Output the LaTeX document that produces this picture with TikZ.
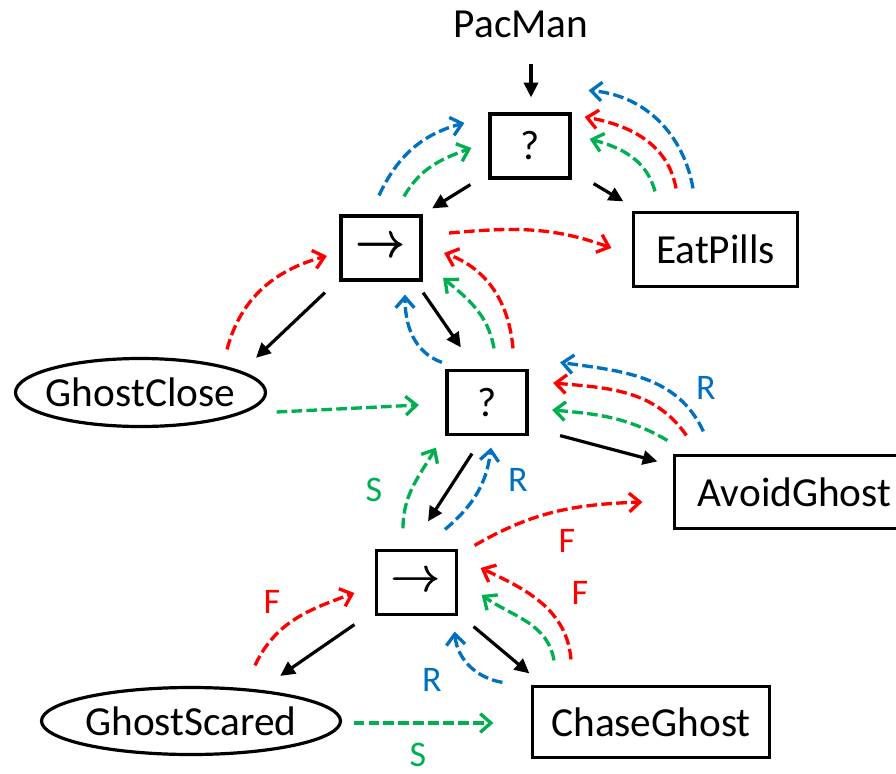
\RequirePackage{fix-cm}
\documentclass[tikz,border=0pt]{standalone}
\usepackage{amsbsy}
\usepackage{fontspec}
\setmainfont{Carlito}
\usetikzlibrary{arrows.meta,shapes.geometric}

\definecolor{ppred}{HTML}{FF0000}
\definecolor{ppgreen}{HTML}{00B050}
\definecolor{ppblue}{HTML}{0070C0}

\tikzset{
  gate/.style={draw, line width=2.4pt, minimum width=60pt, minimum height=48pt, inner sep=0pt},
  task/.style={draw, line width=2.4pt, inner sep=0pt},
  cond/.style={ellipse, draw, line width=2.4pt, inner sep=0pt},
  edge/.style={-{Triangle[length=11pt,width=10.5pt]}, line width=2.4pt},
  back/.style={-{Straight Barb[length=8pt,width=14pt]}, line width=2.5pt, dash pattern=on 8pt off 3.2pt},
  lab/.style={font=\fontsize{27}{32}\selectfont, inner sep=0pt},
  seqsym/.style={font=\fontsize{37}{40}\selectfont}
}

\begin{document}
\begin{tikzpicture}[x=0.75pt, y=0.75pt, font=\fontsize{31}{37}\selectfont]
\useasboundingbox (0,0) rectangle (896,-774);

% nodes
\node[inner sep=0pt] (pacman) at (521,-24) {PacMan};
\node[gate] (root) at (530,-146) {?};
\node[gate, seqsym] (seqA) at (381,-248) {\pmb{$\rightarrow$}};
\node[task, minimum width=123pt, minimum height=55.5pt] (eat) at (715.5,-249.5) {EatPills};
\node[cond, minimum width=187.5pt, minimum height=51pt] (close) at (140.5,-392.5) {\makebox[0pt]{GhostClose}};
\node[gate] (fallb) at (487,-402.5) {?};
\node[task, minimum width=180pt, minimum height=54.75pt] (avoid) at (794.5,-492) {AvoidGhost};
\node[gate, seqsym] (seqB) at (416.5,-582.5) {\pmb{$\rightarrow$}};
\node[cond, minimum width=224.25pt, minimum height=50.25pt] (scared) at (191,-721) {\makebox[0pt]{GhostScared}};
\node[task, minimum width=177.75pt, minimum height=53.25pt] (chase) at (651,-722) {ChaseGhost};

% ticks
\draw[edge] ([shift={(10,-26)}]pacman.south) -- ([shift={(1,15)}]root.north);
\draw[edge] ([shift={(-18,-5)}]root.south west) -- ([shift={(9.5,6)}]seqA.north east);
\draw[edge] ([shift={(22,-4)}]root.south east) -- ([shift={(-8.5,9.5)}]eat.north west);
\draw[edge] ([shift={(-14.5,-11)}]seqA.south west) -- ([shift={(26,9.5)}]close.north east);
\draw[edge] ([shift={(0.5,-11)}]seqA.south east) -- ([shift={(15.5,21.5)}]fallb.north west);
\draw[edge] ([shift={(31.5,0.5)}]fallb.south east) -- ([shift={(-15.5,-7.5)}]avoid.north west);
\draw[edge] ([shift={(-15,-17.5)}]fallb.south) -- ([shift={(11.5,27.5)}]seqB.north);
\draw[edge] ([shift={(-20.5,-8.5)}]seqB.south west) -- ([shift={(-17.7,20.3)}]scared.north east);
\draw[edge] ([shift={(15.5,-10.5)}]seqB.south east) -- ([shift={(-1.5,11.5)}]chase.north west);

% returns, top
\draw[back, ppblue] ([shift={(-2,19)}]seqA.north) to[out=65,in=195] ([shift={(-24,23)}]root.west);
\draw[back, ppgreen] ([shift={(23,18)}]seqA.north) to[out=60,in=200] ([shift={(-17,-2)}]root.west);
\draw[back, ppblue] ([shift={(-22.5,22.5)}]eat.north) to[out=100,in=-5] ([shift={(17,22)}]root.north east);
\draw[back, ppred] ([shift={(-39.5,22.5)}]eat.north) to[out=100,in=-10] ([shift={(13,29)}]root.east);
\draw[back, ppgreen] ([shift={(-60.5,19.5)}]eat.north) to[out=105,in=-15] ([shift={(18,7)}]root.east);
\draw[back, ppred] ([shift={(26.5,15)}]seqA.east) to[out=5,in=160] ([shift={(-20.5,1.5)}]eat.west);
\draw[back, ppred] ([shift={(26,20.5)}]fallb.north) to[out=95,in=-20] ([shift={(21.5,-5)}]seqA.east);
\draw[back, ppgreen] ([shift={(7,20.5)}]fallb.north) to[out=100,in=-40] ([shift={(20.5,-30)}]seqA.east);
\draw[back, ppblue] ([shift={(-3.5,6.5)}]fallb.north west) to[out=160,in=-90] ([shift={(24,-13)}]seqA.south);
\draw[back, ppred] ([shift={(86.5,7.5)}]close.north) to[out=75,in=195] ([shift={(-12.5,-8)}]seqA.west);
\draw[back, ppgreen] ([shift={(9.5,-19.5)}]close.east) -- ([shift={(-26.5,-2.5)}]fallb.west);

% returns, middle
\draw[back, ppblue] ([shift={(30.5,22.5)}]avoid.north west) to[out=115,in=-8] ([shift={(31.5,6.5)}]fallb.north east);
\draw[back, ppred] ([shift={(13.5,18.5)}]avoid.north west) to[out=125,in=-5] ([shift={(24.5,19.5)}]fallb.east);
\draw[back, ppgreen] ([shift={(-5.5,13.5)}]avoid.north west) to[out=150,in=-5] ([shift={(23.5,-7.5)}]fallb.east);
\draw[back, ppgreen] ([shift={(-13.5,20.5)}]seqB.north) to[out=90,in=-120] ([shift={(-9.5,-11.5)}]fallb.south west);
\draw[back, ppblue] ([shift={(28.5,19.5)}]seqB.north) to[out=40,in=-97] ([shift={(4,-11.5)}]fallb.south);
\draw[back, ppred] ([shift={(16.5,3.5)}]seqB.north east) to[out=30,in=182] ([shift={(-30.5,-10)}]avoid.west);

% returns, bottom
\draw[back, ppred] ([shift={(64,20.5)}]scared.north) to[out=65,in=200] ([shift={(-20.5,-10.5)}]seqB.west);
\draw[back, ppred] ([shift={(-80,25.5)}]chase.north) to[out=95,in=-25] ([shift={(22.5,14.5)}]seqB.east);
\draw[back, ppgreen] ([shift={(-97,24.5)}]chase.north) to[out=100,in=-35] ([shift={(23.5,-12.5)}]seqB.east);
\draw[back, ppblue] ([shift={(-28.5,2.5)}]chase.north west) to[out=170,in=-85] ([shift={(-3.5,-15.5)}]seqB.south east);
\draw[back, ppgreen] ([shift={(11.5,-2)}]scared.east) -- ([shift={(-37.5,-1)}]chase.west);

% status labels
\node[lab, ppblue] (rA) at (706,-388) {R};
\node[lab, ppgreen] (sA) at (374,-490) {S};
\node[lab, ppblue] (rB) at (518,-480) {R};
\node[lab, ppred] (fA) at (567,-541) {F};
\node[lab, ppred] (fB) at (272,-602) {F};
\node[lab, ppred] (fC) at (580,-593) {F};
\node[lab, ppblue] (rC) at (432,-680) {R};
\node[lab, ppgreen] (sB) at (418,-755) {S};
\end{tikzpicture}
\end{document}
